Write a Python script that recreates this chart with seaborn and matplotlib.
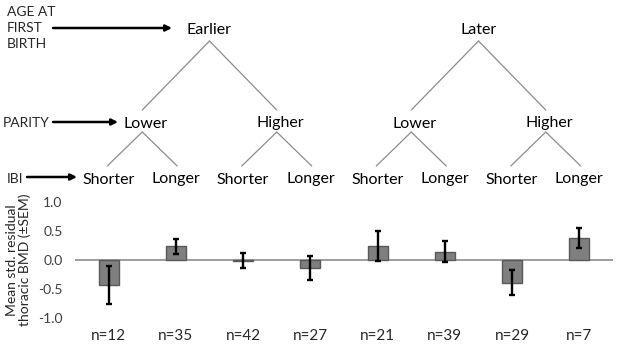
import numpy as np
import pandas as pd
import matplotlib
matplotlib.use('Agg')
import matplotlib.pyplot as plt
import matplotlib.transforms as mtrans
import seaborn as sns

# data
n_labels = ['n=12', 'n=35', 'n=42', 'n=27', 'n=21', 'n=39', 'n=29', 'n=7']
means = [-0.43, 0.24, -0.01, -0.14, 0.24, 0.14, -0.39, 0.38]
sems = [0.33, 0.13, 0.135, 0.21, 0.26, 0.18, 0.21, 0.165]
ibi = ['Shorter', 'Longer'] * 4
parity = ['Lower', 'Higher', 'Lower', 'Higher']
age = ['Earlier', 'Later']
yticks = [1.0, 0.5, 0.0, -0.5, -1.0]

sns.set_style('white')
plt.rcParams['font.family'] = ['Lato', 'DejaVu Sans']

W, H = 617, 344
fig = plt.figure(figsize=(W / 100, H / 100), dpi=100)
ax = fig.add_axes([75 / W, 1 - 318 / H, 538 / W, 116 / H])

df = pd.DataFrame({'grp': n_labels, 'mean': means})
sns.barplot(data=df, x='grp', y='mean', order=n_labels, color='#7f7f7f',
            saturation=1, width=0.3, edgecolor='#595959', linewidth=1, ax=ax, zorder=2)
ax.errorbar(np.arange(len(means)), means, yerr=sems, fmt='none', ecolor='black',
            elinewidth=1.7, capsize=2.5, capthick=1.7, zorder=3)
ax.axhline(0, color='#8c8c8c', lw=1.2, zorder=1)

ax.set_xlim(-0.5, 7.5)
ax.set_ylim(-1.0, 1.0)
ax.set_yticks(yticks)
ax.set_yticklabels([f'{v:.1f}' for v in yticks], fontsize=10, color='#404040')
ax.tick_params(axis='y', length=0, pad=9)
ax.tick_params(axis='x', length=0, pad=8, labelsize=11)
ax.set_xlabel('')
ax.set_ylabel('Mean std. residual\nthoracic BMD (±SEM)', fontsize=10, labelpad=5,
              linespacing=1.05)
sns.despine(ax=ax, left=True, bottom=True)

# tree above the bars: x in bar data coords, y in figure pixels
tr = mtrans.blended_transform_factory(ax.transData, fig.transFigure)
def fy(p):
    return 1 - p / H

leaf_x = np.arange(8)
par_x = [(leaf_x[2 * i] + leaf_x[2 * i + 1]) / 2 for i in range(4)]
age_x = [(par_x[2 * i] + par_x[2 * i + 1]) / 2 for i in range(2)]

fs = 11.5
tkw = dict(transform=tr, ha='center', va='center_baseline', fontsize=fs, color='black')
lkw = dict(transform=tr, color='#8c8c8c', lw=0.9, clip_on=False)

for x, t in zip(leaf_x, ibi):
    fig.text(x, fy(178), t, **tkw)
for i, (x, t) in enumerate(zip(par_x, parity)):
    fig.text(x + 0.05, fy(122), t, **tkw)
    for c in (leaf_x[2 * i], leaf_x[2 * i + 1]):
        off = 0.02 if c > x else -0.02
        fig.add_artist(plt.Line2D([x, c + off], [fy(132), fy(166)], **lkw))
for i, (x, t) in enumerate(zip(age_x, age)):
    fig.text(x, fy(29), t, **tkw)
    for c in (par_x[2 * i], par_x[2 * i + 1]):
        fig.add_artist(plt.Line2D([x, c], [fy(41), fy(110)], **lkw))

# level labels with arrows
lfs = 10
fig.text(7 / W, fy(28), 'AGE AT\nFIRST\nBIRTH', ha='left', va='center',
         fontsize=lfs, linespacing=1.45)
fig.text(3 / W, fy(122), 'PARITY', ha='left', va='center_baseline', fontsize=lfs)
fig.text(7 / W, fy(178), 'IBI', ha='left', va='center_baseline', fontsize=lfs)
akw = dict(arrowstyle='-|>', color='black', lw=1.8, mutation_scale=9)
for x0, x1, y in [(53, 172, 28), (53, 118, 122), (27, 77, 177)]:
    fig.add_artist(matplotlib.patches.FancyArrowPatch(
        (x0 / W, fy(y)), (x1 / W, fy(y)), transform=fig.transFigure,
        shrinkA=0, shrinkB=0, **akw))

fig.savefig('out.png', dpi=100)
